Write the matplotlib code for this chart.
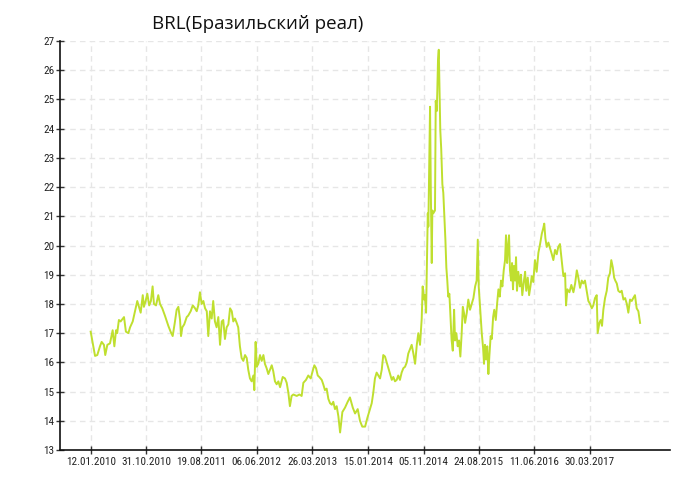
import datetime as dt
import matplotlib
matplotlib.use("Agg")
import matplotlib.pyplot as plt
import matplotlib.dates as mdates
from matplotlib import font_manager

title = "BRL(Бразильский реал)"
start_date = "2010-01-12"
tick_labels = ["12.01.2010", "31.10.2010", "19.08.2011", "06.06.2012", "26.03.2013",
               "15.01.2014", "05.11.2014", "24.08.2015", "11.06.2016", "30.03.2017"]

days = [0, 14, 23, 35, 49, 58, 70, 77, 88, 102, 116, 125, 134, 140, 149, 158, 176, 186, 199, 208,
        222, 234, 246, 257, 264, 275, 281, 290, 299, 309, 318, 327, 334, 345, 357, 366, 378, 392, 410, 422,
        433, 444, 454, 463, 472, 477, 484, 494, 507, 515, 528, 539, 551, 560, 568, 577, 586, 595, 604, 613,
        621, 630, 639, 647, 656, 665, 674, 683, 692, 700, 709, 718, 727, 736, 745, 753, 762, 771, 779, 788,
        797, 806, 815, 824, 832, 841, 850, 859, 864, 871, 877, 885, 894, 903, 912, 920, 929, 938, 947, 956,
        964, 973, 982, 991, 1000, 1014, 1026, 1035, 1044, 1052, 1061, 1070, 1088, 1102, 1114, 1123, 1137, 1149, 1162, 1172,
        1181, 1190, 1199, 1207, 1220, 1228, 1237, 1246, 1255, 1264, 1273, 1281, 1290, 1299, 1308, 1317, 1329, 1343, 1357, 1369,
        1384, 1396, 1410, 1422, 1434, 1449, 1461, 1475, 1484, 1492, 1501, 1510, 1519, 1528, 1537, 1545, 1554, 1563, 1572, 1581,
        1590, 1598, 1607, 1616, 1624, 1633, 1642, 1651, 1660, 1669, 1677, 1686, 1695, 1704, 1713, 1722, 1730, 1739, 1748, 1753,
        1760, 1765, 1771, 1776, 1780, 1783, 1788, 1792, 1796, 1801, 1804, 1809, 1818, 1822, 1827, 1830, 1834, 1838, 1841, 1846,
        1851, 1857, 1862, 1867, 1873, 1878, 1883, 1888, 1894, 1899, 1906, 1912, 1919, 1924, 1931, 1938, 1945, 1952, 1959, 1965,
        1971, 1977, 1986, 1994, 2003, 2012, 2021, 2030, 2038, 2044, 2049, 2056, 2065, 2072, 2077, 2082, 2088, 2094, 2100, 2105,
        2112, 2118, 2125, 2131, 2139, 2146, 2153, 2160, 2167, 2174, 2181, 2188, 2193, 2199, 2204, 2209, 2214, 2220, 2225, 2230,
        2235, 2241, 2246, 2251, 2258, 2266, 2272, 2279, 2287, 2294, 2300, 2308, 2315, 2322, 2329, 2337, 2346, 2355, 2364, 2373,
        2382, 2390, 2395, 2401, 2408, 2417, 2426, 2435, 2443, 2452, 2461, 2469, 2478, 2487, 2496, 2505, 2510, 2517, 2528, 2538,
        2549, 2558, 2567, 2575, 2584, 2593, 2601, 2610, 2619, 2628, 2637, 2646, 2654, 2663, 2672, 2677, 2686, 2693, 2700, 2707,
        2716, 2725, 2733, 2742, 2749, 2757, 2764, 2770, 2778, 2786, 2795, 2804, 2813, 2822, 2831, 2839, 2848, 2857, 2865, 2874,
        2883, 2892, 2901]

values = [17.05, 16.55, 16.22, 16.25, 16.55, 16.7, 16.6, 16.25, 16.6, 16.65, 17.1, 16.55, 17.1, 17.0, 17.45, 17.4, 17.55, 17.05, 17.0, 17.2,
          17.4, 17.75, 18.1, 17.85, 17.7, 18.3, 17.9, 18.1, 18.35, 17.95, 18.1, 18.6, 18.0, 17.95, 18.3, 18.0, 17.85, 17.6, 17.25, 17.05,
          16.9, 17.35, 17.8, 17.9, 17.45, 16.9, 17.2, 17.3, 17.55, 17.6, 17.75, 17.95, 17.85, 17.75, 17.95, 18.4, 18.0, 18.1, 17.85, 17.75,
          16.9, 17.75, 17.5, 18.1, 17.4, 17.2, 17.55, 16.6, 17.4, 17.45, 16.8, 17.2, 17.3, 17.85, 17.75, 17.4, 17.5, 17.35, 17.2, 16.55,
          16.15, 16.05, 16.25, 16.15, 15.75, 15.45, 15.35, 15.55, 15.05, 16.7, 15.85, 15.95, 16.25, 16.05, 16.25, 15.95, 15.8, 15.6, 15.75, 15.9,
          15.7, 15.35, 15.25, 15.35, 15.15, 15.5, 15.45, 15.3, 14.95, 14.5, 14.85, 14.9, 14.85, 14.9, 14.85, 15.3, 15.4, 15.55, 15.45, 15.7,
          15.9, 15.8, 15.55, 15.5, 15.4, 15.25, 15.05, 15.1, 14.75, 14.6, 14.55, 14.65, 14.4, 14.5, 14.15, 13.6, 14.3, 14.45, 14.65, 14.8,
          14.45, 14.25, 14.4, 14.0, 13.8, 13.8, 14.1, 14.4, 14.6, 14.95, 15.45, 15.65, 15.55, 15.45, 15.75, 16.25, 16.2, 16.0, 15.8, 15.6,
          15.4, 15.5, 15.35, 15.4, 15.55, 15.4, 15.65, 15.8, 15.85, 16.0, 16.3, 16.45, 16.6, 16.3, 15.95, 16.6, 17.0, 16.6, 17.5, 18.6,
          18.15, 18.3, 17.7, 19.5, 21.1, 20.65, 22.8, 24.75, 21.9, 19.4, 21.2, 21.1, 21.2, 24.95, 24.6, 25.2, 26.35, 26.7, 25.65, 23.95,
          23.3, 22.1, 21.8, 21.1, 20.2, 19.25, 18.8, 18.25, 18.35, 17.7, 16.75, 16.4, 17.8, 16.75, 17.0, 16.55, 16.75, 16.2, 17.0, 17.9,
          17.7, 17.35, 17.7, 18.15, 17.8, 18.0, 18.2, 18.6, 18.8, 20.2, 18.6, 17.9, 17.0, 16.5, 15.95, 16.6, 16.1, 16.55, 15.6, 16.2,
          16.9, 16.8, 17.55, 17.8, 17.45, 18.0, 18.5, 18.25, 18.8, 18.6, 19.15, 19.5, 20.35, 19.4, 19.95, 20.35, 19.15, 18.8, 19.4, 18.5,
          19.3, 18.8, 19.6, 18.45, 19.1, 18.6, 19.0, 18.3, 18.75, 19.1, 18.45, 18.9, 18.3, 18.6, 18.95, 18.75, 19.5, 19.1, 19.75, 20.05,
          20.4, 20.6, 20.75, 20.25, 19.95, 20.1, 19.9, 19.7, 19.5, 19.85, 19.7, 19.95, 20.05, 19.5, 18.95, 19.05, 17.95, 18.5, 18.4, 18.65,
          18.4, 18.7, 19.15, 18.9, 18.55, 18.8, 18.7, 18.8, 18.45, 18.1, 18.0, 17.85, 17.95, 18.2, 18.3, 17.0, 17.35, 17.45, 17.25, 17.8,
          18.2, 18.45, 18.9, 19.05, 19.5, 19.25, 18.9, 18.8, 18.7, 18.45, 18.4, 18.45, 18.15, 18.2, 18.0, 17.7, 18.15, 18.1, 18.2, 18.3,
          17.85, 17.75, 17.35]

y_ticks = list(range(13, 28))

start = dt.datetime.strptime(start_date, "%Y-%m-%d")
dates = [start + dt.timedelta(days=d) for d in days]
tick_dates = [dt.datetime.strptime(t, "%d.%m.%Y") for t in tick_labels]

available = {f.name for f in font_manager.fontManager.ttflist}
tick_family = [f for f in ["Liberation Sans Narrow", "DejaVu Sans Condensed", "Roboto Condensed"] if f in available]
if not tick_family:
    tick_family = ["DejaVu Sans"]
    tick_size = 6.6
else:
    tick_size = 8

fig = plt.figure(figsize=(7, 5), dpi=100)
ax = fig.add_axes([60 / 700, 1 - 450 / 500, 610 / 700, 409 / 500])

ax.plot(dates, values, color="#bfdf2f", linewidth=1.4, solid_joinstyle="round")

ax.set_ylim(13, 27)
ax.set_yticks(y_ticks)
ax.set_xlim(start - dt.timedelta(days=162), start + dt.timedelta(days=3059))
ax.set_xticks(tick_dates)
ax.set_xticklabels(tick_labels)

ax.grid(True, color="#e6e6e6", linestyle=(0, (4, 3)), linewidth=1.0)
ax.set_axisbelow(True)
for side in ("top", "right"):
    ax.spines[side].set_visible(False)
for side in ("left", "bottom"):
    ax.spines[side].set_linewidth(1.2)
    ax.spines[side].set_color("#111111")
ax.tick_params(axis="both", direction="inout", length=6, width=1.0, color="#333333",
               labelcolor="#222222")
ax.tick_params(axis="x", pad=2)
ax.tick_params(axis="y", pad=1)
for lbl in ax.get_xticklabels() + ax.get_yticklabels():
    lbl.set_family(tick_family)
    lbl.set_fontsize(tick_size)

fig.text(258 / 700, 1 - 24 / 500, title, ha="center", va="center", fontsize=13.5,
         family=["Open Sans", "DejaVu Sans"], color="#111111")

fig.savefig("out.png", dpi=100)
